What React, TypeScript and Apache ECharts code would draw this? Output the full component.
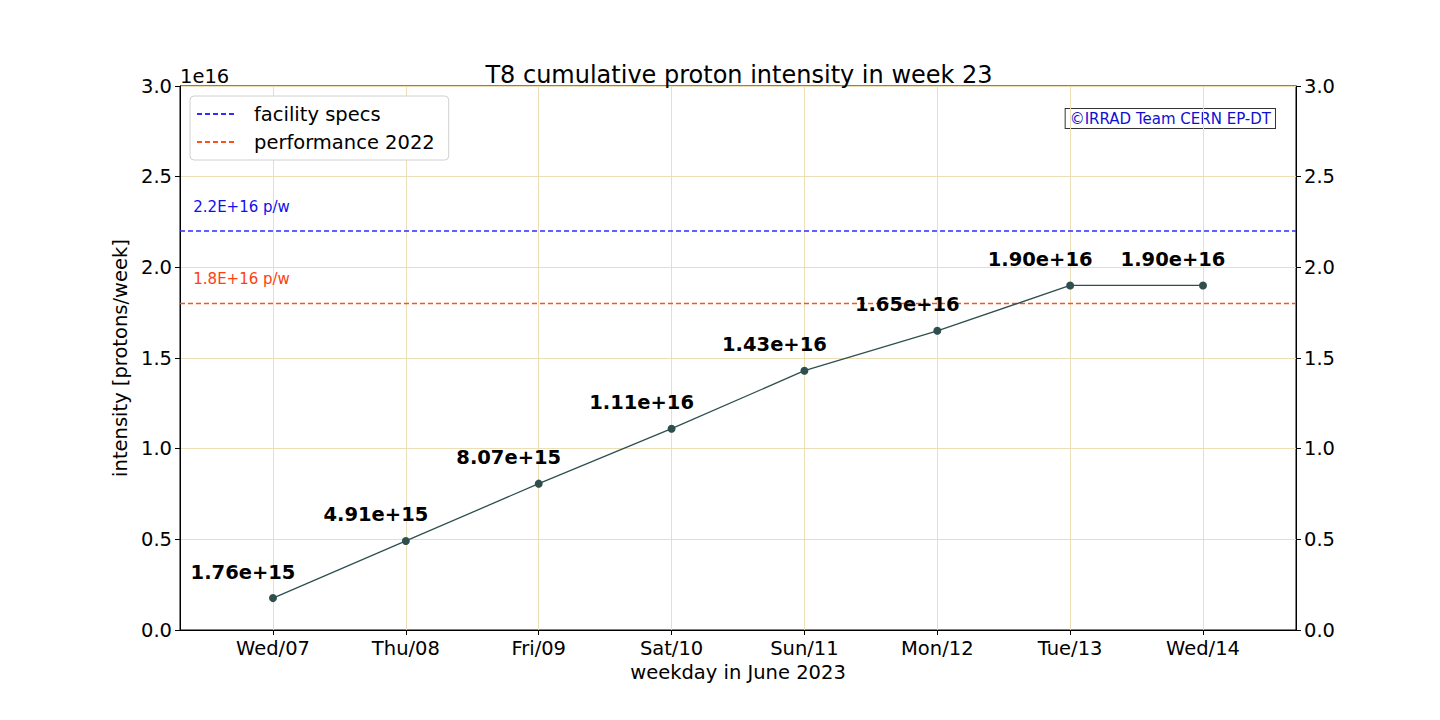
import React, { useEffect, useRef } from "react";
import * as echarts from "echarts";

const days = ["Wed/07", "Thu/08", "Fri/09", "Sat/10", "Sun/11", "Mon/12", "Tue/13", "Wed/14"];
const intensity = [1.76e15, 4.91e15, 8.07e15, 1.11e16, 1.43e16, 1.65e16, 1.9e16, 1.9e16];
const facilitySpec = 2.2e16;
const performance2022 = 1.8e16;
const xMin = -0.7;
const xMax = 7.7;

const FONT = "DejaVu Sans";
const GRID = "#ecdfb8";
const FS = 19.5;

export default function App() {
  const ref = useRef<HTMLDivElement>(null);
  useEffect(() => {
    document.body.style.margin = "0";
    const chart = echarts.init(ref.current!, undefined, { renderer: "svg" });
    const idx = days.map((_, i) => i);
    const yAxisCommon = {
      type: "value" as const,
      min: 0,
      max: 3e16,
      interval: 0.5e16,
      axisLine: { show: true, onZero: false, lineStyle: { color: "#000", width: 1 } },
      axisTick: { show: true, length: 5, lineStyle: { color: "#000" } },
      axisLabel: {
        color: "#000",
        fontSize: FS,
        fontFamily: FONT,
        margin: 8,
        formatter: (v: number) => (v / 1e16).toFixed(1),
      },
    };
    chart.setOption({
      animation: false,
      textStyle: { fontFamily: FONT },
      title: {
        text: "T8 cumulative proton intensity in week 23",
        left: 734,
        textAlign: "center",
        top: 58,
        textStyle: { fontSize: 24, fontWeight: "normal", color: "#000", fontFamily: FONT },
      },
      grid: {
        left: 180,
        right: 144,
        top: 86,
        bottom: 90,
        show: true,
        borderColor: "#000",
        borderWidth: 1,
        backgroundColor: "transparent",
      },
      legend: {
        orient: "vertical",
        left: 190,
        top: 96,
        padding: [8, 14, 8, 6],
        itemWidth: 40,
        itemHeight: 14,
        itemGap: 8,
        backgroundColor: "#fff",
        borderColor: "#d0d0d0",
        borderWidth: 1,
        borderRadius: 4,
        itemStyle: { opacity: 0 },
        textStyle: { fontSize: FS, color: "#000", fontFamily: FONT, padding: [0, 0, 0, 12] },
        data: ["facility specs", "performance 2022"],
      },
      xAxis: {
        type: "value",
        min: xMin,
        max: xMax,
        name: "weekday in June 2023",
        nameLocation: "middle",
        nameGap: 24,
        nameTextStyle: { fontSize: FS, color: "#000", fontFamily: FONT },
        axisLine: { show: true, onZero: false, lineStyle: { color: "#000" } },
        axisTick: { show: true, length: 5, customValues: idx, lineStyle: { color: "#000" } },
        splitLine: { show: false },
        axisLabel: {
          customValues: idx,
          color: "#000",
          fontSize: FS,
          fontFamily: FONT,
          margin: 8,
          formatter: (v: number) => days[Math.round(v)] ?? "",
        },
      },
      yAxis: [
        {
          ...yAxisCommon,
          position: "left",
          name: "intensity [protons/week]",
          nameLocation: "middle",
          nameGap: 41,
          nameRotate: 90,
          nameTextStyle: { fontSize: FS, color: "#000", fontFamily: FONT },
          splitLine: { show: true, lineStyle: { color: GRID, width: 1 } },
        },
        {
          ...yAxisCommon,
          position: "right",
          splitLine: { show: false },
        },
      ],
      graphic: [
        {
          type: "text",
          left: 180,
          top: 66,
          style: { text: "1e16", fontSize: FS, fill: "#000", fontFamily: FONT },
        },
        {
          type: "text",
          right: 164,
          top: 108,
          style: {
            text: "©IRRAD Team CERN EP-DT",
            fontSize: 15,
            fill: "#1010d0",
            fontFamily: FONT,
            backgroundColor: "#fff",
            borderColor: "#333",
            borderWidth: 1,
            padding: [2, 4, 2, 4],
          },
        },
      ],
      series: [
        {
          name: "grid",
          type: "line",
          data: [],
          z: 0,
          silent: true,
          markLine: {
            silent: true,
            z: 0,
            symbol: "none",
            label: { show: false },
            lineStyle: { color: GRID, type: "solid", width: 1 },
            data: idx.map((i) => ({ xAxis: i })),
          },
        },
        {
          name: "facility specs",
          type: "line",
          symbol: "none",
          z: 3,
          lineStyle: { color: "#2e2eff", type: [5, 3], width: 1.5 },
          itemStyle: { color: "#2e2eff" },
          data: [
            [xMin, facilitySpec],
            [xMax, facilitySpec],
          ],
          markPoint: {
            symbol: "circle",
            symbolSize: 0,
            data: [
              {
                coord: [-0.6, facilitySpec + 0.1e16],
                label: {
                  show: true,
                  formatter: "2.2E+16 p/w",
                  position: "right",
                  distance: 0,
                  offset: [0, -6],
                  color: "#1010f0",
                  fontSize: 15,
                  fontFamily: FONT,
                },
              },
            ],
          },
        },
        {
          name: "performance 2022",
          type: "line",
          symbol: "none",
          z: 3,
          lineStyle: { color: "#ff4f1a", type: [5, 3], width: 1.5 },
          itemStyle: { color: "#ff4f1a" },
          data: [
            [xMin, performance2022],
            [xMax, performance2022],
          ],
          markPoint: {
            symbol: "circle",
            symbolSize: 0,
            data: [
              {
                coord: [-0.6, performance2022 + 0.1e16],
                label: {
                  show: true,
                  formatter: "1.8E+16 p/w",
                  position: "right",
                  distance: 0,
                  offset: [0, -6],
                  color: "#ff4010",
                  fontSize: 15,
                  fontFamily: FONT,
                },
              },
            ],
          },
        },
        {
          name: "intensity",
          type: "line",
          z: 4,
          symbol: "circle",
          symbolSize: 8,
          showSymbol: true,
          lineStyle: { color: "#2f4f4f", width: 1.3 },
          itemStyle: { color: "#2f4f4f", borderWidth: 0 },
          data: intensity.map((v, i) => [i, v]),
          label: {
            show: true,
            position: "top",
            distance: 12,
            offset: [-30, 0],
            fontSize: FS,
            fontWeight: "bold",
            color: "#000",
            fontFamily: FONT,
            formatter: (p: any) => (p.value[1] as number).toExponential(2),
          },
        },
      ],
    });
    return () => chart.dispose();
  }, []);
  return <div ref={ref} style={{ width: 1440, height: 720 }} />;
}
